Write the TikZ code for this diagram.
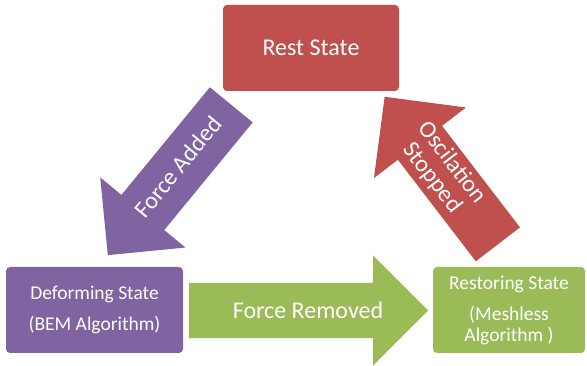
\documentclass[tikz,border=0pt]{standalone}
\usepackage{fontspec}
\setmainfont{Carlito}
\usepackage{tikz}
\usetikzlibrary{shapes.arrows}

\definecolor{offred}{RGB}{192,80,77}
\definecolor{offpurple}{RGB}{128,100,162}
\definecolor{offgreen}{RGB}{155,187,89}

\begin{document}
\begin{tikzpicture}[x=1pt,y=-1pt]
\tikzset{
    statebox/.style = {rectangle, rounded corners=4pt, align=center, text=white, inner sep=0pt, minimum height=86pt},
    blockarrow/.style = {single arrow, single arrow head extend=27.5pt, inner xsep=0pt, inner ysep=27.5pt, minimum width=110pt, anchor=tail},
    arrowtext/.style = {text=white, align=center, inner sep=0pt, font=\fontsize{24}{25}\selectfont}
}
\useasboundingbox (0,0) rectangle (587,366);
% states
\node[statebox,minimum width=176pt,fill=offred,font=\fontsize{24}{28}\selectfont] (rest) at (311,48) {Rest State};
\node[statebox,minimum width=177pt,fill=offpurple,font=\fontsize{19.5}{21}\selectfont] (deform) at (94.5,310) {Deforming State\\[10pt](BEM Algorithm)};
\node[statebox,minimum width=152pt,fill=offgreen,font=\fontsize{19.5}{21}\selectfont] (restore) at (509,310) {Restoring State\\[10pt](Meshless\\Algorithm )};
% transitions
\node[blockarrow,fill=offpurple,rotate=50.6,shape border rotate=180,minimum height=194.5pt] (added) at (231.4,104.7) {};
\node[blockarrow,fill=offgreen,minimum height=239pt] (removed) at (189,310.5) {};
\node[blockarrow,fill=offred,rotate=-52.5,shape border rotate=180,minimum height=186pt,single arrow head extend=30pt,minimum width=116pt] (stopped) at (498,244.5) {};
% labels on the arrows
\node[arrowtext,rotate=50.6] (addedlbl) at (178,167) {Force Added};
\node[arrowtext] (removedlbl) at (308,310) {Force Removed};
\node[arrowtext,rotate=-52.5] (stoppedlbl) at (442,170.5) {Oscilation\\Stopped};
\end{tikzpicture}
\end{document}
